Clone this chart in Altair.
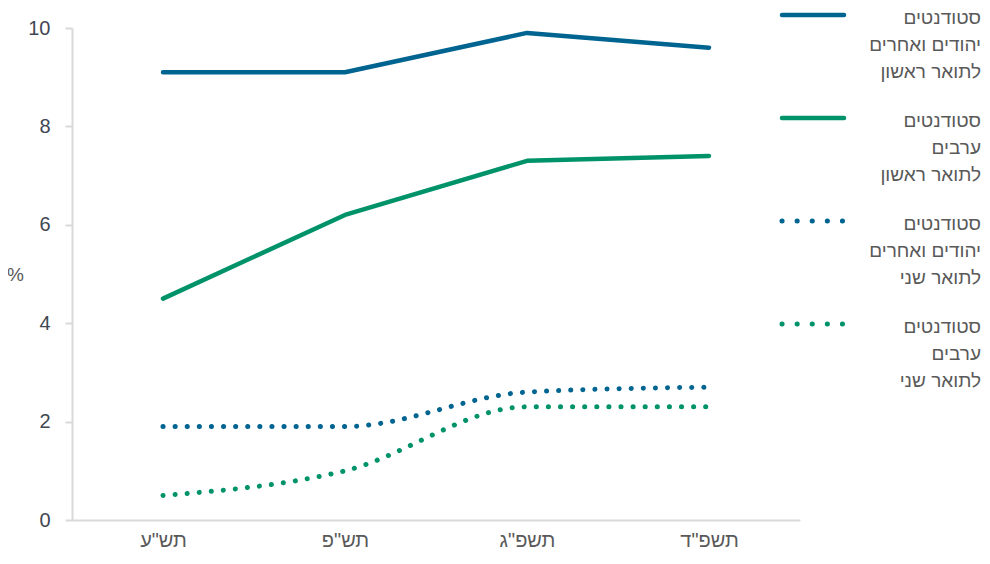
import altair as alt
import pandas as pd

years = ['תש"ע', 'תש"פ', 'תשפ"ג', 'תשפ"ד']
jew_ba = [9.1, 9.1, 9.9, 9.6]
arab_ba = [4.5, 6.2, 7.3, 7.4]
jew_ma = [1.9, 1.9, 2.6, 2.7]
arab_ma = [0.5, 1.0, 2.3, 2.3]

series_lines = [
    ["סטודנטים", "יהודים ואחרים", "לתואר ראשון"],
    ["סטודנטים", "ערבים", "לתואר ראשון"],
    ["סטודנטים", "יהודים ואחרים", "לתואר שני"],
    ["סטודנטים", "ערבים", "לתואר שני"],
]
series_values = [jew_ba, arab_ba, jew_ma, arab_ma]
series_colors = ["#006491", "#00936A", "#006491", "#00936A"]
series_dotted = [False, False, True, True]

FONT = "Liberation Sans"
TEXT_COLOR = "#595959"
NUM_COLOR = "#3f4752"

names = [" ".join(l) for l in series_lines]
rows = []
for name, vals, dotted in zip(names, series_values, series_dotted):
    for y, v in zip(years, vals):
        rows.append({"year": y, "value": v, "series": name, "dotted": dotted})
df = pd.DataFrame(rows)

color_scale = alt.Scale(domain=names, range=series_colors)

x_enc = alt.X(
    "year:N", sort=years,
    scale=alt.Scale(type="point", padding=0.5),
    axis=alt.Axis(title=None, labelAngle=0, ticks=False, domainColor="#d9d9d9",
                  domainWidth=2, labelFontSize=20, labelColor=TEXT_COLOR,
                  labelFont=FONT, labelPadding=10),
)
y_enc = alt.Y(
    "value:Q", scale=alt.Scale(domain=[0, 10]),
    axis=alt.Axis(values=[0, 2, 4, 6, 8, 10], grid=False, title="%", titleAngle=0,
                  titleX=-57, titleY=246, titleAlign="center", titleBaseline="middle",
                  titleFontWeight="normal", titleFontSize=19, titleColor=TEXT_COLOR,
                  titleFont=FONT, domainColor="#d9d9d9", domainWidth=2,
                  tickColor="#d9d9d9", tickSize=7, tickWidth=2,
                  labelFontSize=20, labelColor=NUM_COLOR, labelFont=FONT,
                  labelPadding=15),
)

base = alt.Chart(df).encode(
    x=x_enc, y=y_enc,
    color=alt.Color("series:N", scale=color_scale, legend=None),
    detail="series:N",
)
solid = base.transform_filter("!datum.dotted").mark_line(
    strokeWidth=4.5, interpolate="linear", strokeCap="round", strokeJoin="round")
dots = base.transform_filter("datum.dotted").mark_line(
    strokeWidth=5, interpolate="monotone", strokeCap="round", strokeDash=[0.1, 12])

# custom legend (pixel positions relative to the plot area)
sym_rows = []
txt_rows = []
for i, (name, lines) in enumerate(zip(names, series_lines)):
    top = -13 + i * 103
    sym_rows.append({"x1": 710, "x2": 772, "y": top, "series": name,
                     "dotted": series_dotted[i]})
    for j, t in enumerate(lines):
        txt_rows.append({"x": 909, "y": top + 3 + j * 27, "text": t})
sym_df = pd.DataFrame(sym_rows)
txt_df = pd.DataFrame(txt_rows)

sym_base = alt.Chart(sym_df).encode(
    x=alt.X("x1:Q", scale=None, axis=None),
    x2="x2:Q",
    y=alt.Y("y:Q", scale=None, axis=None),
    color=alt.Color("series:N", scale=color_scale, legend=None),
)
sym_solid = sym_base.transform_filter("!datum.dotted").mark_rule(
    strokeWidth=4.5, strokeCap="round")
sym_dots = sym_base.transform_filter("datum.dotted").mark_rule(
    strokeWidth=5, strokeCap="round", strokeDash=[0.1, 15])

legend_text = alt.Chart(txt_df).mark_text(
    align="right", baseline="middle", fontSize=19, font=FONT, color=TEXT_COLOR
).encode(
    x=alt.X("x:Q", scale=None, axis=None),
    y=alt.Y("y:Q", scale=None, axis=None),
    text="text:N",
)

chart = alt.layer(solid, dots, sym_solid, sym_dots, legend_text).properties(
    width=728, height=492,
    autosize=alt.AutoSizeParams(type="none"),
    padding={"left": 64, "top": 20, "right": 182, "bottom": 36},
).configure_view(stroke=None)

chart.save("out.html", embed_options={"renderer": "svg", "actions": False})
